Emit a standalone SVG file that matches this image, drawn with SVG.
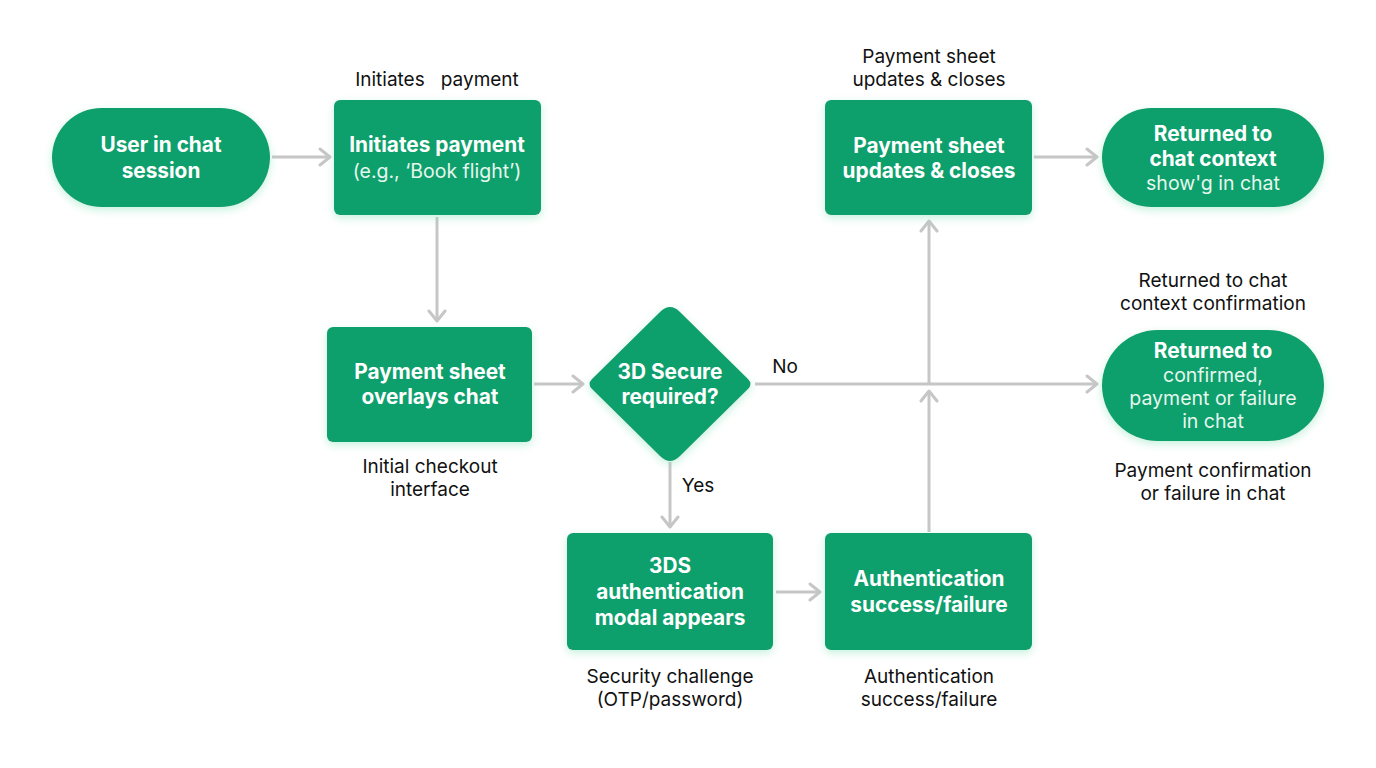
<svg xmlns="http://www.w3.org/2000/svg" width="1376" height="768" viewBox="0 0 1376 768">
<defs>
<filter id="glow" x="-20%" y="-20%" width="140%" height="150%">
<feGaussianBlur in="SourceAlpha" stdDeviation="4"/>
<feOffset dy="3" result="b"/>
<feFlood flood-color="#7fe0b4" flood-opacity="0.45"/>
<feComposite in2="b" operator="in"/>
<feMerge><feMergeNode/><feMergeNode in="SourceGraphic"/></feMerge>
</filter>
<marker id="arr" viewBox="0 0 14 20" refX="12" refY="10" markerWidth="14" markerHeight="20" markerUnits="userSpaceOnUse" orient="auto">
<path d="M2 2 L12 10 L2 18" fill="none" stroke="#c6c6c6" stroke-width="3" stroke-linecap="round" stroke-linejoin="round"/>
</marker>
</defs>
<style>
.n{fill:#119f6c;filter:url(#glow)}
.t{font-family:Inter,"Liberation Sans",sans-serif;font-size:20.8px;font-weight:700;fill:#fff;text-anchor:middle}
.s{font-family:Inter,"Liberation Sans",sans-serif;font-size:19.5px;font-weight:400;fill:#e6f7ee;text-anchor:middle}
.l{font-family:Inter,"Liberation Sans",sans-serif;font-size:19px;font-weight:400;fill:#111;text-anchor:middle}
.c{fill:none;stroke:#c6c6c6;stroke-width:3;marker-end:url(#arr)}
</style>
<rect width="1376" height="768" fill="#fff"/>
<g id="connectors">
<path class="c" d="M272 157 H330"/>
<path class="c" d="M437 217 V321"/>
<path class="c" d="M534 384 H583"/>
<path class="c" d="M755 384 H1097"/>
<path class="c" d="M670 462 V527"/>
<path class="c" d="M776 592 H820"/>
<path class="c" d="M929 532 V391"/>
<path class="c" d="M929 384 V221"/>
<path class="c" d="M1034 157 H1097"/>
<text class="l" x="785" y="373">No</text>
<text class="l" x="698" y="492">Yes</text>
</g>
<g id="user-chat">
<rect class="n" x="52" y="108" width="218" height="99" rx="49.5"/>
<text class="t" x="161" y="152">User in chat</text>
<text class="t" x="161" y="178">session</text>
</g>
<g id="initiates-payment">
<text class="l" x="437" y="86" xml:space="preserve">Initiates   payment</text>
<rect class="n" x="334" y="100" width="207" height="115" rx="6"/>
<text class="t" x="437" y="152">Initiates payment</text>
<text class="s" x="437" y="178">(e.g., ‘Book flight’)</text>
</g>
<g id="payment-sheet-overlays">
<rect class="n" x="327" y="327" width="205" height="115" rx="6"/>
<text class="t" x="430" y="379">Payment sheet</text>
<text class="t" x="430" y="404">overlays chat</text>
<text class="l" x="430" y="473">Initial checkout</text>
<text class="l" x="430" y="496">interface</text>
</g>
<g id="decision-3ds">
<path class="n" d="M670 307 Q675 307 680 312 L748 379 Q753 384 748 389 L680 456 Q675 461 670 461 Q665 461 660 456 L592 389 Q587 384 592 379 L660 312 Q665 307 670 307 Z"/>
<text class="t" x="670" y="379">3D Secure</text>
<text class="t" x="670" y="404">required?</text>
</g>
<g id="3ds-modal">
<rect class="n" x="567" y="533" width="206" height="117" rx="6"/>
<text class="t" x="670" y="573">3DS</text>
<text class="t" x="670" y="599">authentication</text>
<text class="t" x="670" y="625">modal appears</text>
<text class="l" x="670" y="683">Security challenge</text>
<text class="l" x="670" y="706">(OTP/password)</text>
</g>
<g id="auth-result">
<rect class="n" x="825" y="533" width="207" height="117" rx="6"/>
<text class="t" x="929" y="586">Authentication</text>
<text class="t" x="929" y="612">success/failure</text>
<text class="l" x="929" y="683">Authentication</text>
<text class="l" x="929" y="706">success/failure</text>
</g>
<g id="payment-sheet-updates">
<text class="l" x="929" y="63">Payment sheet</text>
<text class="l" x="929" y="86">updates &amp; closes</text>
<rect class="n" x="825" y="100" width="207" height="115" rx="6"/>
<text class="t" x="929" y="153">Payment sheet</text>
<text class="t" x="929" y="178">updates &amp; closes</text>
</g>
<g id="returned-context">
<rect class="n" x="1102" y="108" width="222" height="99" rx="49.5"/>
<text class="t" x="1213" y="141">Returned to</text>
<text class="t" x="1213" y="166">chat context</text>
<text class="s" x="1213" y="190">show'g in chat</text>
</g>
<g id="returned-confirmed">
<text class="l" x="1213" y="287">Returned to chat</text>
<text class="l" x="1213" y="310">context confirmation</text>
<rect class="n" x="1102" y="330" width="222" height="111" rx="55.5"/>
<text class="t" x="1213" y="358">Returned to</text>
<text class="s" x="1213" y="382">confirmed,</text>
<text class="s" x="1213" y="405">payment or failure</text>
<text class="s" x="1213" y="428">in chat</text>
<text class="l" x="1213" y="477">Payment confirmation</text>
<text class="l" x="1213" y="500">or failure in chat</text>
</g>
</svg>
